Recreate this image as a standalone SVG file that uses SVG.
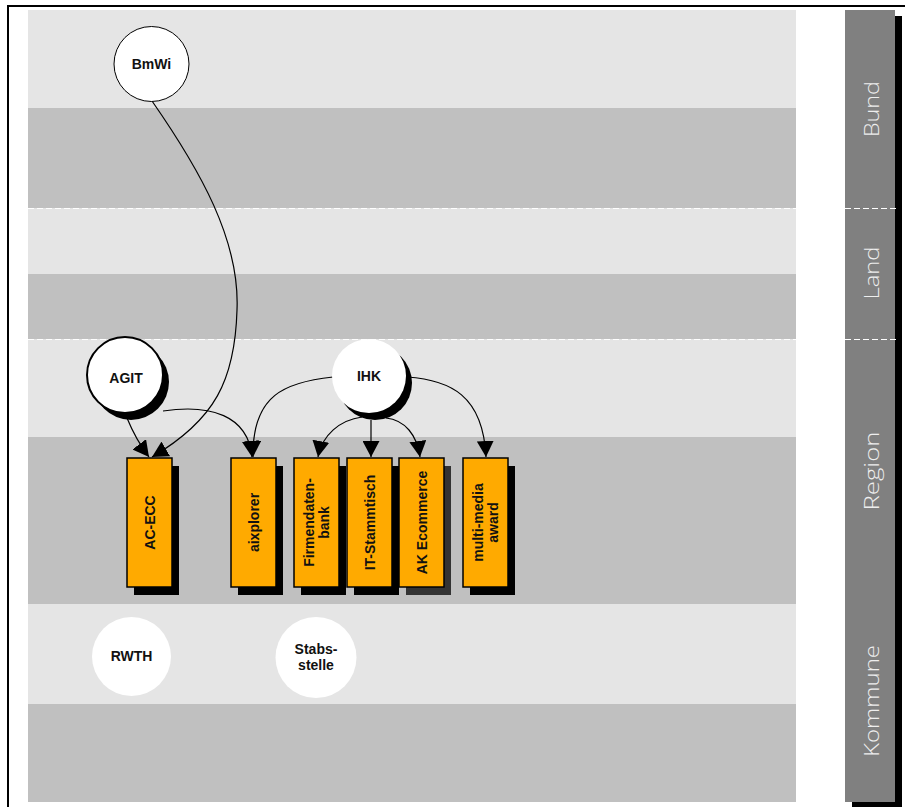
<svg xmlns="http://www.w3.org/2000/svg" width="905" height="807" viewBox="0 0 905 807">
<defs>
<style>
.bl{fill:#e5e5e5}
.bd{fill:#c0c0c0}
.dash{stroke:#ffffff;stroke-width:1;stroke-dasharray:6,3;fill:none}
.lvl{fill:#eeeeee;font-family:"Open Sans","DejaVu Sans",sans-serif;font-weight:300;font-size:21px;text-anchor:middle}
.t{font-family:"Liberation Sans",Arial,sans-serif;font-weight:bold;font-size:14px;fill:#111;text-anchor:middle}
.box{fill:#ffaa00;stroke:#000;stroke-width:1.5}
.sh{fill:#000}
.con{fill:none;stroke:#000;stroke-width:1.2}
</style>
<marker id="ah" markerUnits="userSpaceOnUse" markerWidth="17" markerHeight="17" refX="16" refY="8.5" orient="auto">
<path d="M0,0 L16,8.5 L0,17 Z" fill="#000"/>
</marker>
</defs>
<rect x="0" y="0" width="905" height="807" fill="#ffffff"/>
<g id="bands">
<rect class="bl" x="28" y="10" width="768" height="98"/>
<rect class="bd" x="28" y="108" width="768" height="100"/>
<rect class="bl" x="28" y="208" width="768" height="66"/>
<rect class="bd" x="28" y="274" width="768" height="65"/>
<rect class="bl" x="28" y="339" width="768" height="98"/>
<rect class="bd" x="28" y="437" width="768" height="167"/>
<rect class="bl" x="28" y="604" width="768" height="100"/>
<rect class="bd" x="28" y="704" width="768" height="98"/>
</g>
<g id="levels">
<rect x="852" y="16" width="50" height="792" fill="#000"/>
<rect x="845" y="10" width="50" height="792" fill="#808080"/>
<text class="lvl" transform="translate(879,109) rotate(-90)" textLength="56" lengthAdjust="spacingAndGlyphs">Bund</text>
<text class="lvl" transform="translate(879,273) rotate(-90)" textLength="53" lengthAdjust="spacingAndGlyphs">Land</text>
<text class="lvl" transform="translate(879,471) rotate(-90)" textLength="79" lengthAdjust="spacingAndGlyphs">Region</text>
<text class="lvl" transform="translate(879,701) rotate(-90)" textLength="112" lengthAdjust="spacingAndGlyphs">Kommune</text>
</g>
<g id="dividers">
<line class="dash" x1="28" y1="208.5" x2="796" y2="208.5"/>
<line class="dash" x1="28" y1="339.5" x2="796" y2="339.5"/>
<line class="dash" x1="845" y1="208.5" x2="899" y2="208.5"/>
<line class="dash" x1="845" y1="339.5" x2="899" y2="339.5"/>
</g>
<g id="frame">
<line x1="7" y1="6" x2="905" y2="6" stroke="#000" stroke-width="2"/>
<line x1="8" y1="5" x2="8" y2="807" stroke="#000" stroke-width="2"/>
</g>
<g id="connectors">
<path class="con" marker-end="url(#ah)" d="M152,101 C200,170 240,240 237,310 C235,380 215,420 152,457"/>
<path class="con" marker-end="url(#ah)" d="M127,418 Q136,440 149,457"/>
<path class="con" marker-end="url(#ah)" d="M163,411 C210,404 248,415 252,457"/>
<path class="con" marker-end="url(#ah)" d="M333,377 C285,382 252,395 253,457"/>
<path class="con" marker-end="url(#ah)" d="M362,417 C340,420 322,435 318,457"/>
<path class="con" marker-end="url(#ah)" d="M371,420 L371,457"/>
<path class="con" marker-end="url(#ah)" d="M386,418 C405,420 417,435 420,457"/>
<path class="con" marker-end="url(#ah)" d="M407,377 C450,380 483,395 486,457"/>
</g>
<g id="BmWi">
<circle cx="151.5" cy="64" r="37.5" fill="#fff" stroke="#000" stroke-width="1"/>
<text class="t" x="151.5" y="69">BmWi</text>
</g>
<g id="AGIT">
<circle cx="131" cy="382" r="38" fill="#000"/>
<circle cx="125" cy="375" r="38" fill="#fff" stroke="#000" stroke-width="2"/>
<text class="t" x="126" y="383">AGIT</text>
</g>
<g id="IHK">
<circle cx="375" cy="383" r="37" fill="#000"/>
<circle cx="369" cy="376" r="37" fill="#fff"/>
<text class="t" x="369" y="381">IHK</text>
</g>
<g id="RWTH">
<circle cx="131.5" cy="656.5" r="39.5" fill="#fff"/>
<text class="t" x="131.5" y="661">RWTH</text>
</g>
<g id="Stabsstelle">
<circle cx="316" cy="657.5" r="40.5" fill="#fff"/>
<text class="t" x="316" y="654">Stabs-</text>
<text class="t" x="316" y="670">stelle</text>
</g>
<g id="AC-ECC">
<rect class="sh" x="134" y="466" width="45" height="129"/>
<rect class="box" x="127" y="458" width="45" height="129"/>
<text class="t" transform="translate(149.5,522.5) rotate(-90)" y="5">AC-ECC</text>
</g>
<g id="aixplorer">
<rect class="sh" x="238" y="466" width="45" height="129"/>
<rect class="box" x="231" y="458" width="45" height="129"/>
<text class="t" transform="translate(253.5,522.5) rotate(-90)" y="5">aixplorer</text>
</g>
<g id="Firmendatenbank">
<rect class="sh" x="301" y="466" width="45" height="129"/>
<rect class="box" x="294" y="458" width="45" height="129"/>
<text class="t" transform="translate(316.5,522.5) rotate(-90)"><tspan x="0" y="-2.5">Firmendaten-</tspan><tspan x="0" y="12.5">bank</tspan></text>
</g>
<g id="IT-Stammtisch">
<rect class="sh" x="354" y="466" width="45" height="129"/>
<rect class="box" x="347" y="458" width="45" height="129"/>
<text class="t" transform="translate(369.5,522.5) rotate(-90)" y="5">IT-Stammtisch</text>
</g>
<g id="AK-Ecommerce">
<rect x="406" y="466" width="45" height="129" fill="#333333"/>
<rect class="box" x="399" y="458" width="45" height="129"/>
<text class="t" transform="translate(421.5,522.5) rotate(-90)" y="5">AK Ecommerce</text>
</g>
<g id="multi-media-award">
<rect class="sh" x="470" y="466" width="45" height="129"/>
<rect class="box" x="463" y="458" width="45" height="129"/>
<text class="t" transform="translate(485.5,522.5) rotate(-90)"><tspan x="0" y="-2.5">multi-media</tspan><tspan x="0" y="12.5">award</tspan></text>
</g>
</svg>
